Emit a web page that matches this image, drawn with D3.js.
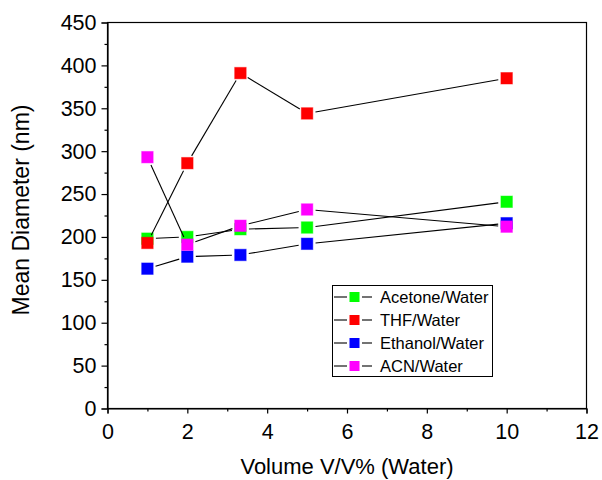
<!DOCTYPE html>
<html>
<head>
<meta charset="utf-8">
<script src="https://cdn.jsdelivr.net/npm/d3@7"></script>
<style>
  html, body { margin: 0; padding: 0; background: #fff; }
  svg { display: block; font-family: "Liberation Sans", Arial, sans-serif; }
</style>
</head>
<body>
<svg id="chart" width="602" height="480"></svg>
<script>
// Volume fraction of water (V/V %)
const volumes = [1, 2, 3.33, 5, 10];

// Mean particle diameter (nm) for each solvent/water system
const acetoneWater = [198, 200, 209, 211, 241];
const thfWater     = [193, 286, 391, 344, 385];
const ethanolWater = [163, 177, 179, 192, 216];
const acnWater     = [293, 191, 213, 232, 212];

const seriesNames  = ["Acetone/Water", "THF/Water", "Ethanol/Water", "ACN/Water"];
const seriesColors = ["#00ff00", "#ff0000", "#0000ff", "#ff00ff"];

const xTicks = [0, 2, 4, 6, 8, 10, 12];
const yTicks = [0, 50, 100, 150, 200, 250, 300, 350, 400, 450];

const seriesValues = [acetoneWater, thfWater, ethanolWater, acnWater];
const series = seriesNames.map((name, i) => ({
  name,
  color: seriesColors[i],
  points: volumes.map((v, j) => ({ x: v, y: seriesValues[i][j] }))
}));

const svg = d3.select("#chart");
const plot = { left: 107.5, right: 586.5, top: 22.5, bottom: 408.5 };

const x = d3.scaleLinear().domain([0, 12]).range([plot.left, plot.right]);
const y = d3.scaleLinear().domain([0, 450]).range([plot.bottom, plot.top]);

// Frame
svg.append("rect")
  .attr("x", plot.left).attr("y", plot.top)
  .attr("width", plot.right - plot.left).attr("height", plot.bottom - plot.top)
  .attr("fill", "none").attr("stroke", "#000").attr("stroke-width", 1.2);

// Minor ticks
const xMinor = d3.range(1, 12, 2);
const yMinor = d3.range(25, 450, 50);

svg.append("g").attr("transform", `translate(0,${plot.bottom})`)
  .call(d3.axisBottom(x).tickValues(xTicks).tickFormat(d3.format("d")).tickSize(5).tickPadding(10));
svg.append("g").attr("transform", `translate(0,${plot.bottom})`)
  .call(d3.axisBottom(x).tickValues(xMinor).tickFormat("").tickSize(3))
  .call(g => g.select(".domain").remove());

svg.append("g").attr("transform", `translate(${plot.left},0)`)
  .call(d3.axisLeft(y).tickValues(yTicks).tickFormat(d3.format("d")).tickSize(6).tickPadding(5));
svg.append("g").attr("transform", `translate(${plot.left},0)`)
  .call(d3.axisLeft(y).tickValues(yMinor).tickFormat("").tickSize(3))
  .call(g => g.select(".domain").remove());

svg.selectAll(".domain").attr("stroke-width", 1.2);
svg.selectAll(".tick line").attr("stroke", "#000").attr("stroke-width", 1.2);
svg.selectAll(".tick text")
  .attr("font-family", "'Liberation Sans', Arial, sans-serif")
  .attr("font-size", 21.5).attr("fill", "#000");

// Axis titles
svg.append("text")
  .attr("x", 347).attr("y", 474)
  .attr("text-anchor", "middle")
  .attr("font-size", 22).attr("fill", "#000")
  .text("Volume V/V% (Water)");

svg.append("text")
  .attr("transform", "translate(29,210) rotate(-90)")
  .attr("text-anchor", "middle")
  .attr("font-size", 23).attr("fill", "#000")
  .text("Mean Diameter (nm)");

// Connecting lines stop short of the markers
const gap = 8.5;
const size = 11.5;

series.forEach(s => {
  const g = svg.append("g");
  const pts = s.points.map(p => [x(p.x), y(p.y)]);
  for (let i = 0; i < pts.length - 1; i++) {
    const [x1, y1] = pts[i], [x2, y2] = pts[i + 1];
    const len = Math.hypot(x2 - x1, y2 - y1);
    if (len <= 2 * gap) continue;
    const ux = (x2 - x1) / len, uy = (y2 - y1) / len;
    g.append("line")
      .attr("x1", x1 + ux * gap).attr("y1", y1 + uy * gap)
      .attr("x2", x2 - ux * gap).attr("y2", y2 - uy * gap)
      .attr("stroke", "#000").attr("stroke-width", 1.1);
  }
  g.selectAll("rect").data(s.points).join("rect")
    .attr("x", d => x(d.x) - size / 2)
    .attr("y", d => y(d.y) - size / 2)
    .attr("width", size).attr("height", size)
    .attr("fill", s.color)
    .attr("stroke", s.color).attr("stroke-opacity", 0.45).attr("stroke-width", 1);
});

// Legend
const lg = svg.append("g");
lg.append("rect")
  .attr("x", 332.5).attr("y", 285.5).attr("width", 160).attr("height", 91)
  .attr("fill", "#fff").attr("stroke", "#000").attr("stroke-width", 1);

series.forEach((s, i) => {
  const cy = 297 + i * 23;
  lg.append("line").attr("x1", 334).attr("x2", 347).attr("y1", cy).attr("y2", cy)
    .attr("stroke", "#000").attr("stroke-width", 1.1);
  lg.append("line").attr("x1", 362).attr("x2", 372).attr("y1", cy).attr("y2", cy)
    .attr("stroke", "#000").attr("stroke-width", 1.1);
  lg.append("rect").attr("x", 349.5).attr("y", cy - 5).attr("width", 10).attr("height", 10)
    .attr("fill", s.color);
  lg.append("text").attr("x", 380).attr("y", cy + 6)
    .attr("font-size", 16.5).attr("fill", "#000")
    .text(s.name);
});
</script>
</body>
</html>
